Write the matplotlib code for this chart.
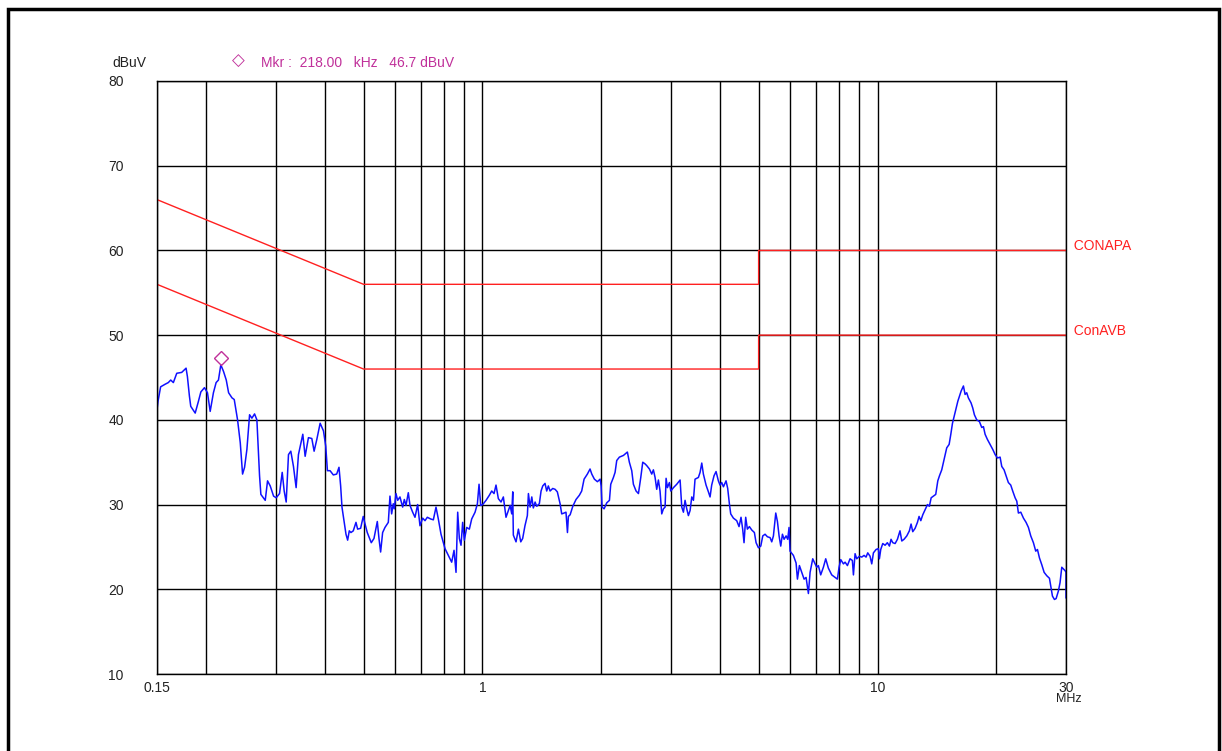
import matplotlib
import matplotlib.pyplot as plt
import matplotlib.ticker as mticker
import matplotlib.transforms as mtransforms
from matplotlib.patches import Rectangle

matplotlib.use('agg')
plt.rcParams['font.family'] = ['Liberation Sans', 'DejaVu Sans']

# measured trace (MHz, dBuV)
freq = [0.150, 0.1509, 0.1532, 0.1572, 0.1602, 0.1625, 0.1650, 0.1683, 0.1732, 0.1777,
        0.1791, 0.1812, 0.1826, 0.1874, 0.1910, 0.1937, 0.1978, 0.2013, 0.2045, 0.2084,
        0.2117, 0.2146, 0.2176, 0.2211, 0.2246, 0.2277, 0.2322, 0.2353, 0.2399, 0.2437,
        0.2470, 0.2499, 0.2533, 0.2573, 0.2608, 0.2649, 0.2685, 0.2727, 0.2748, 0.2819,
        0.2857, 0.2902, 0.2959, 0.3005, 0.3064, 0.3112, 0.3148, 0.3185, 0.3228, 0.3272,
        0.3323, 0.3375, 0.3421, 0.3509, 0.3557, 0.3626, 0.3698, 0.3748, 0.3808, 0.3882,
        0.3958, 0.4011, 0.4050,
        0.4113, 0.4192, 0.4275, 0.4333, 0.4375, 0.4409, 0.4461, 0.4513, 0.4557, 0.4601,
        0.4646, 0.4709, 0.4784, 0.4830, 0.4915, 0.4991, 0.5031, 0.5109, 0.5230, 0.5313,
        0.5417, 0.5470, 0.5523, 0.5588, 0.5665, 0.5776, 0.5832, 0.5889, 0.5946, 0.5981,
        0.6040, 0.6099, 0.6182, 0.6280, 0.6341, 0.6403, 0.6490, 0.6554, 0.6657, 0.6748,
        0.6853, 0.6947, 0.7057, 0.7153, 0.7251, 0.7393, 0.7510, 0.7627, 0.7731, 0.7853,
        0.8038, 0.8196, 0.8357, 0.8472, 0.8571, 0.8655, 0.8739, 0.8824, 0.8909, 0.8997,
        0.9121, 0.9264, 0.9391, 0.9577, 0.9708, 0.9802, 0.9897, 1.0013, 1.0209, 1.0408,
        1.0553, 1.0697, 1.0821, 1.0969, 1.1142, 1.1294, 1.1470,
        1.175, 1.186, 1.193, 1.197, 1.216, 1.233, 1.250, 1.264, 1.281, 1.299,
        1.307, 1.320, 1.333, 1.345, 1.359, 1.372, 1.393, 1.407, 1.421, 1.440,
        1.454, 1.468, 1.483, 1.506, 1.527, 1.547, 1.572, 1.587, 1.609, 1.627,
        1.641, 1.650, 1.667, 1.693, 1.725, 1.759, 1.783, 1.808, 1.843, 1.872,
        1.891, 1.920, 1.954, 1.985, 1.997, 2.008, 2.032, 2.063, 2.096, 2.112,
        2.145, 2.166, 2.187, 2.221, 2.274, 2.327, 2.354, 2.387, 2.410, 2.448,
        2.482, 2.516, 2.545, 2.580, 2.605, 2.646, 2.682, 2.708, 2.735, 2.761,
        2.788, 2.815, 2.843, 2.871, 2.899, 2.916, 2.939, 2.973, 2.997, 3.044,
        3.103, 3.164, 3.195, 3.226, 3.257, 3.289, 3.321,
        3.354, 3.387, 3.420, 3.452, 3.520, 3.555, 3.590, 3.624, 3.681, 3.732,
        3.768, 3.804, 3.856, 3.902, 3.955, 3.993, 4.033, 4.073, 4.136, 4.176,
        4.217, 4.250, 4.317, 4.401, 4.461, 4.513, 4.557, 4.593, 4.638, 4.683,
        4.739, 4.804, 4.879, 4.927, 4.995, 5.064, 5.123, 5.192, 5.263, 5.346,
        5.398, 5.451, 5.526, 5.580, 5.634, 5.689, 5.745, 5.801, 5.869, 5.925,
        5.971, 6.006, 6.124, 6.221, 6.270, 6.343, 6.430, 6.518, 6.594, 6.684,
        6.750, 6.855, 6.949, 7.015, 7.084, 7.181, 7.294, 7.394, 7.509, 7.657,
        7.808, 7.915, 7.992, 8.071, 8.198, 8.278, 8.391, 8.520, 8.637, 8.690,
        8.774, 8.859, 8.998, 9.122, 9.246, 9.354, 9.446, 9.575, 9.669, 9.764,
        9.918, 10.05, 10.11,
        10.19, 10.31, 10.45, 10.59, 10.72, 10.82, 10.93, 11.08, 11.23, 11.40,
        11.52, 11.67, 11.86, 12.04, 12.16, 12.28, 12.45, 12.62, 12.74, 12.87,
        13.02, 13.20, 13.38, 13.53, 13.67, 13.85, 14.04, 14.21, 14.35, 14.54,
        14.74, 14.97, 15.18, 15.33, 15.48, 15.63, 15.81, 15.97, 16.12, 16.28,
        16.50, 16.66, 16.82, 16.98, 17.25, 17.42, 17.59, 17.83, 18.11, 18.36,
        18.54, 18.72, 18.97, 19.27, 19.58, 19.85, 20.12, 20.43, 20.63, 20.91,
        21.15, 21.44, 21.74, 21.99, 22.30, 22.52, 22.73, 23.05, 23.41, 23.77,
        24.10, 24.43, 24.81, 25.15, 25.40, 25.70, 26.05, 26.41, 26.82, 27.24,
        27.45, 27.72, 28.04, 28.32, 28.70, 28.98, 29.27, 29.55, 29.84, 30.0, 30.0]

level = [41.2, 42.2, 43.9, 44.2, 44.4, 44.7, 44.4, 45.5, 45.6, 46.1,
         45.1, 42.8, 41.6, 40.8, 42.2, 43.3, 43.8, 43.2, 41.0, 43.2,
         44.4, 44.7, 46.5, 45.7, 44.7, 43.2, 42.6, 42.4, 40.0, 37.3,
         33.6, 34.4, 36.5, 40.6, 40.2, 40.7, 40.0, 33.4, 31.2, 30.5,
         32.8, 32.2, 31.0, 30.8, 31.3, 33.8, 31.6, 30.3, 35.9, 36.3,
         34.5, 32.0, 35.9, 38.3, 35.7, 37.9, 37.8, 36.3, 37.7, 39.6,
         38.7, 36.9, 34.0,
         34.0, 33.5, 33.6, 34.4, 32.2, 29.7, 28.1, 26.5, 25.8, 26.9,
         26.7, 26.9, 27.9, 27.1, 27.2, 28.6, 27.9, 26.7, 25.5, 26.0,
         28.0, 26.0, 24.4, 26.7, 27.3, 27.9, 31.0, 28.9, 30.1, 29.5,
         31.3, 30.5, 30.9, 29.7, 30.6, 29.9, 31.4, 29.9, 29.1, 28.5,
         30.0, 27.5, 28.4, 28.1, 28.5, 28.3, 28.2, 29.7, 28.3, 26.5,
         24.8, 24.0, 23.2, 24.6, 22.0, 29.1, 26.0, 25.2, 27.9, 25.8,
         27.3, 27.1, 28.3, 29.1, 30.1, 32.4, 29.9, 30.0, 30.5, 31.1,
         31.6, 31.3, 32.3, 30.7, 30.3, 30.9, 28.5,
         29.9, 28.9, 31.5, 26.4, 25.6, 27.1, 25.6, 26.0, 27.5, 28.7,
         31.3, 29.7, 30.9, 29.6, 30.3, 29.8, 30.1, 31.6, 32.2, 32.5,
         31.6, 32.2, 31.6, 31.9, 31.8, 31.5, 30.1, 28.9, 29.0, 29.1,
         26.7, 28.6, 28.8, 29.8, 30.6, 31.1, 31.6, 33.0, 33.6, 34.2,
         33.6, 33.0, 32.7, 33.0, 32.2, 29.7, 29.5, 30.2, 30.5, 32.4,
         33.2, 33.8, 35.2, 35.6, 35.8, 36.2, 35.0, 34.0, 32.4, 31.6,
         31.3, 33.2, 35.0, 34.8, 34.6, 34.2, 33.6, 34.1, 33.2, 31.8,
         32.9, 31.6, 28.9, 29.5, 29.7, 33.1, 32.0, 32.6, 31.6, 32.0,
         32.4, 32.9, 29.7, 29.1, 30.5, 29.5, 28.7,
         29.3, 30.9, 30.5, 33.0, 33.2, 33.8, 34.9, 33.6, 32.3, 31.5,
         30.9, 32.3, 33.4, 33.9, 32.8, 32.3, 32.6, 32.1, 32.8, 31.9,
         30.1, 28.9, 28.4, 28.1, 27.4, 28.5, 27.1, 25.5, 28.5, 27.1,
         27.4, 27.0, 26.7, 25.5, 24.9, 25.1, 26.3, 26.5, 26.2, 26.1,
         25.6, 26.3, 29.0, 28.0, 26.3, 25.1, 26.5, 25.9, 26.3, 25.9,
         27.3, 24.5, 24.0, 23.1, 21.2, 22.8, 22.0, 21.2, 21.4, 19.5,
         22.0, 23.6, 23.0, 22.6, 22.8, 21.7, 22.6, 23.6, 22.5, 21.7,
         21.4, 21.2, 22.6, 23.5, 23.0, 23.2, 22.8, 23.6, 23.4, 21.7,
         24.2, 23.6, 23.9, 23.8, 24.0, 23.8, 24.3, 23.9, 23.0, 24.3,
         24.7, 24.8, 23.6,
         24.7, 25.4, 25.2, 25.5, 25.1, 25.9, 25.5, 25.4, 25.9, 26.9,
         25.7, 25.9, 26.3, 26.9, 27.7, 26.8, 27.2, 27.9, 28.6, 28.1,
         28.8, 29.4, 30.0, 29.8, 30.8, 31.0, 31.2, 32.8, 33.4, 34.1,
         35.3, 36.7, 37.1, 38.3, 39.6, 40.4, 41.4, 42.2, 42.8, 43.4,
         44.0, 43.0, 43.2, 42.6, 42.0, 41.4, 40.6, 40.0, 39.8, 39.1,
         39.2, 38.3, 37.7, 37.1, 36.5, 35.9, 35.5, 35.6, 34.5, 34.1,
         33.4, 32.6, 32.3, 31.6, 30.8, 30.4, 29.0, 29.1, 28.4, 27.9,
         27.3, 26.3, 25.5, 24.5, 24.7, 23.7, 22.9, 22.0, 21.6, 21.3,
         20.4, 19.2, 18.8, 18.9, 19.8, 20.8, 22.6, 22.4, 22.2, 22.0, 19.0]

# limit lines
qp_freq = [0.15, 0.5, 5.0, 5.0, 30.0]
qp_level = [66, 56, 56, 60, 60]
av_freq = [0.15, 0.5, 5.0, 5.0, 30.0]
av_level = [56, 46, 46, 50, 50]

mkr_freq = 0.218
mkr_level = 46.7

grid_freqs = [0.2, 0.3, 0.4, 0.5, 0.6, 0.7, 0.8, 0.9, 1, 2, 3, 4, 5, 6, 7, 8, 9, 10, 20]
label_freqs = [0.15, 1, 10, 30]
label_text = ['0.15', '1', '10', '30']
y_ticks = [10, 20, 30, 40, 50, 60, 70, 80]

red = '#ff2020'
mag = '#c0309a'
fs = 10

fig = plt.figure(figsize=(12.22, 7.51), dpi=100)
ax = fig.add_axes([157 / 1222, 77 / 751, 909 / 1222, 593 / 751])

ax.set_xscale('log')
ax.set_xlim(0.15, 30)
ax.set_ylim(10, 80)

ax.xaxis.set_major_locator(mticker.FixedLocator(label_freqs))
ax.xaxis.set_major_formatter(mticker.FixedFormatter(label_text))
ax.xaxis.set_minor_locator(mticker.FixedLocator(grid_freqs))
ax.xaxis.set_minor_formatter(mticker.NullFormatter())
ax.set_yticks(y_ticks)

ax.tick_params(axis='both', which='both', length=0, labelsize=fs, colors='#222222')
ax.tick_params(axis='x', pad=5)
ax.tick_params(axis='y', pad=24)

ax.grid(True, which='both', color='black', linewidth=1.0)
ax.set_axisbelow(True)
for sp in ax.spines.values():
    sp.set_color('black')
    sp.set_linewidth(1.0)

ax.plot(qp_freq, qp_level, color=red, linewidth=1.0)
ax.plot(av_freq, av_level, color=red, linewidth=1.0)
ax.plot(freq, level, color='#1010ff', linewidth=1.1)

# marker drawn just above the peak
off = mtransforms.offset_copy(ax.transData, fig=fig, x=0, y=5, units='dots')
ax.plot([mkr_freq], [mkr_level], marker='D', markersize=7, markerfacecolor='none',
        markeredgecolor=mag, markeredgewidth=1.0, transform=off, clip_on=False)

ax.text(30, 60, '  CONAPA', color=red, fontsize=fs, va='baseline', ha='left')
ax.text(30, 50, '  ConAVB', color=red, fontsize=fs, va='baseline', ha='left')

fig.text(112 / 1222, 1 - 63 / 751, 'dBuV', fontsize=fs, va='center', ha='left', color='#222222')
fig.text(238 / 1222, 1 - 61 / 751, '\u25c7', fontsize=12, va='center', ha='center', color=mag)
fig.text(261 / 1222, 1 - 63 / 751, 'Mkr :  218.00   kHz   46.7 dBuV', fontsize=fs,
         va='center', ha='left', color=mag)
fig.text(1069 / 1222, 1 - 699 / 751, 'MHz', fontsize=9, va='center', ha='center', color='#222222')

# outer frame
fig.patches.append(Rectangle((8 / 1222, -0.02), 1211 / 1222, 0.02 + 1 - 9 / 751,
                             transform=fig.transFigure, fill=False,
                             edgecolor='black', linewidth=2.5))

fig.savefig('out.png', dpi=100)
